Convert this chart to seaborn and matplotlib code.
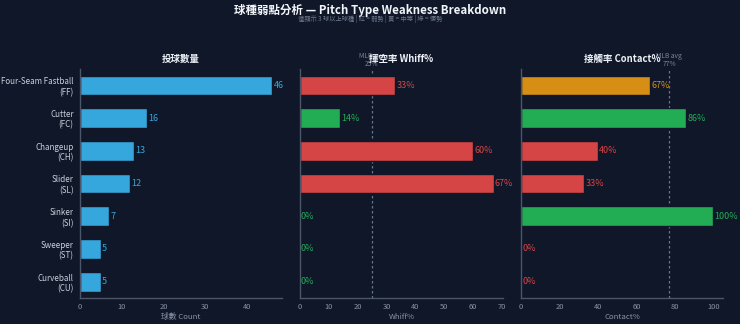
import matplotlib
matplotlib.use("Agg")
import matplotlib.pyplot as plt
import seaborn as sns
import pandas as pd

pitch_names = ["Four-Seam Fastball\n(FF)", "Cutter\n(FC)", "Changeup\n(CH)", "Slider\n(SL)",
               "Sinker\n(SI)", "Sweeper\n(ST)", "Curveball\n(CU)"]
pitch_counts = [46, 16, 13, 12, 7, 5, 5]
whiff_pct = [33, 14, 60, 67, 0, 0, 0]
contact_pct = [67, 86, 40, 33, 100, 0, 0]
mlb_avg_whiff = 25
mlb_avg_contact = 77

BG = "#0f1729"
BLUE = "#35a7dc"
RED = "#d64545"
GREEN = "#22ad55"
ORANGE = "#d68f14"
GRID = "#8a94a6"
TXT = "#c9d1dc"


def whiff_color(v):
    if v <= 20:
        return GREEN
    if v <= 30:
        return ORANGE
    return RED


def contact_color(v):
    if v >= 77:
        return GREEN
    if v >= 60:
        return ORANGE
    return RED


sns.set_theme(style="dark")
plt.rcParams["font.family"] = ["Noto Sans CJK TC", "DejaVu Sans"]
plt.rcParams["axes.unicode_minus"] = False

df = pd.DataFrame({"pitch": pitch_names, "count": pitch_counts,
                   "whiff": whiff_pct, "contact": contact_pct})

fig = plt.figure(figsize=(7.4, 3.24), dpi=100, facecolor=BG)
bottom, top = 0.080, 0.787
lefts = [0.108, 0.405, 0.704]
widths = [0.273, 0.275, 0.273]
axes = [fig.add_axes([l, bottom, w, top - bottom]) for l, w in zip(lefts, widths)]

panels = [
    ("count", [BLUE] * len(df), "投球數量", "球數 Count", (0, 48.3), [0, 10, 20, 30, 40], "{:d}", None),
    ("whiff", [whiff_color(v) for v in whiff_pct], "揮空率 Whiff%", "Whiff%", (0, 70.35),
     [0, 10, 20, 30, 40, 50, 60, 70], "{:d}%", mlb_avg_whiff),
    ("contact", [contact_color(v) for v in contact_pct], "接觸率 Contact%", "Contact%", (0, 105),
     [0, 20, 40, 60, 80, 100], "{:d}%", mlb_avg_contact),
]

for i, (ax, (col, colors, title, xlabel, xlim, xticks, fmt, avg)) in enumerate(zip(axes, panels)):
    ax.set_facecolor(BG)
    sns.barplot(data=df, x=col, y="pitch", hue="pitch", palette=colors, legend=False,
                orient="h", width=0.6, ax=ax, edgecolor=BG, linewidth=1.0, saturation=1)
    ax.set_xlim(*xlim)
    ax.set_ylim(len(df) - 0.5, -0.5)
    ax.set_xticks(xticks)
    ax.set_title(title, color="#eef2f7", fontsize=6.8, fontweight="bold", pad=5)
    ax.set_xlabel(xlabel, color=GRID, fontsize=5.6, labelpad=1.2)
    ax.set_ylabel("")
    for s in ["top", "right"]:
        ax.spines[s].set_visible(False)
    for s in ["left", "bottom"]:
        ax.spines[s].set_visible(True)
        ax.spines[s].set_color("#4b566a")
        ax.spines[s].set_linewidth(1.0)
    ax.tick_params(axis="x", colors=GRID, labelsize=5.4, length=2.5, width=0.8, pad=1.2)
    ax.tick_params(axis="y", colors=GRID, length=2.5, width=0.8, labelsize=5.8, labelcolor=TXT, pad=2)
    ax.grid(False)
    if i > 0:
        ax.set_yticklabels([])
    vals = df[col].tolist()
    for j, (v, c) in enumerate(zip(vals, colors)):
        ax.text(v + xlim[1] * 0.006, j, fmt.format(v), color=c, fontsize=6.5,
                va="center", ha="left")
    if avg is not None:
        ax.axvline(avg, color="#6b7588", linestyle=(0, (2, 2)), linewidth=0.9, zorder=0.5)
        ax.text(avg, 1.005, f"MLB avg\n{avg}%", transform=ax.get_xaxis_transform(),
                color="#7a8598", fontsize=4.8, ha="center", va="bottom", linespacing=1.0,
                zorder=1)

fig.text(0.5, 0.988, "球種弱點分析 — Pitch Type Weakness Breakdown", color="#f2f5f9",
         fontsize=8.3, fontweight="bold", ha="center", va="top")
fig.text(0.5, 0.955, "僅顯示 3 球以上球種 | 紅 = 弱勢 | 黃 = 中等 | 綠 = 優勢", color="#6f7a8d",
         fontsize=4.5, ha="center", va="top")

fig.savefig("out.png", dpi=100, facecolor=BG)
